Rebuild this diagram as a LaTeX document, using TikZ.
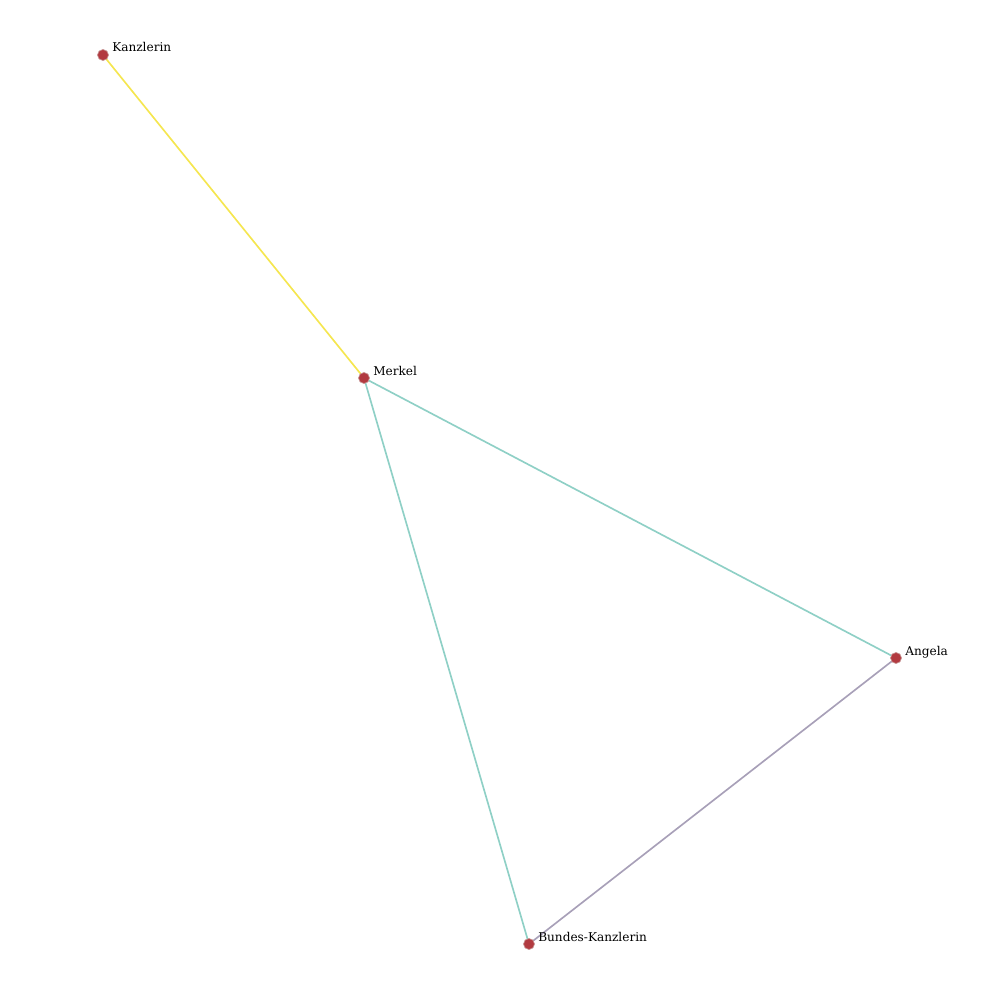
\documentclass[tikz,border=0pt]{standalone}
\usepackage{fontspec}
\setmainfont{DejaVu Serif}
\begin{document}
\begin{tikzpicture}[x=0.01in,y=-0.01in,
  dot/.style={circle,fill=dotred,draw=dotrim,line width=0.5pt,inner sep=0pt,minimum size=0.11in},
  lbl/.style={anchor=base west,inner sep=0pt,font=\fontsize{8.75}{10}\selectfont},
  edge/.style={line width=1.2pt}]
\definecolor{dotred}{RGB}{178,58,64}
\definecolor{dotrim}{RGB}{200,150,150}
\definecolor{eyellow}{RGB}{245,230,80}
\definecolor{eteal}{RGB}{143,208,198}
\definecolor{epurple}{RGB}{168,160,184}
\useasboundingbox (0,0) rectangle (1000,1000);
\coordinate (ck) at (103,55);
\coordinate (cm) at (364,378);
\coordinate (ca) at (896,658);
\coordinate (cb) at (529,944);
\draw[edge,eyellow] (ck) -- (cm);
\draw[edge,eteal] (cm) -- (ca);
\draw[edge,eteal] (cm) -- (cb);
\draw[edge,epurple] (ca) -- (cb);
\node[dot] (k) at (ck) {};
\node[dot] (m) at (cm) {};
\node[dot] (a) at (ca) {};
\node[dot] (b) at (cb) {};
\node[lbl] (lk) at (112,52) {Kanzlerin};
\node[lbl] (lm) at (373,375) {Merkel};
\node[lbl] (la) at (905,655) {Angela};
\node[lbl] (lb) at (538,941) {Bundes-Kanzlerin};
\end{tikzpicture}
\end{document}
